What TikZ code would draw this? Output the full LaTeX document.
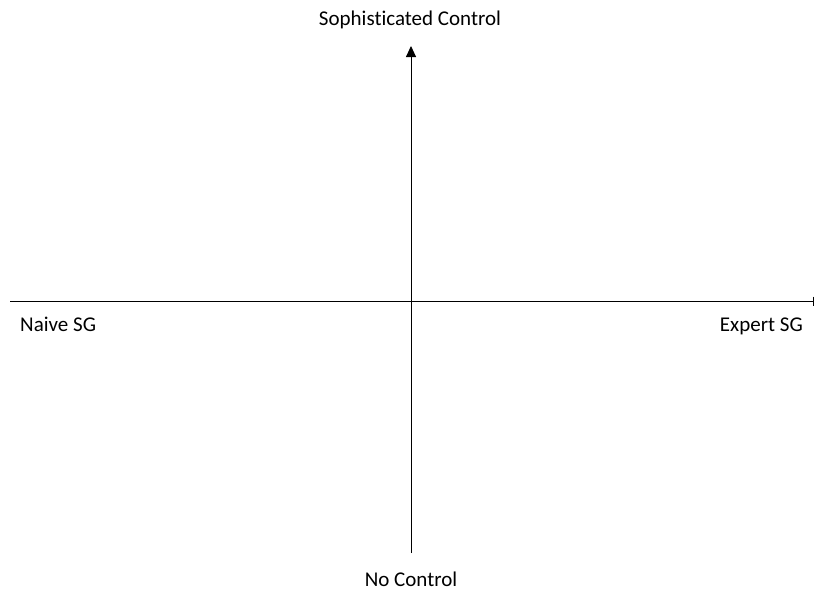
\documentclass[tikz,border=0pt]{standalone}
\usepackage{fontspec}
\setmainfont{Carlito}[Ligatures=NoCommon]
\usetikzlibrary{arrows.meta}
\begin{document}
\begin{tikzpicture}[x=1pt,y=-1pt,
  axis/.style={line width=0.9pt,black},
  lbl/.style={inner sep=0pt,font=\fontsize{21}{24}\selectfont}]
\useasboundingbox (0,0) rectangle (815,592);
% axes end points
\coordinate (left) at (10,301);
\coordinate (right) at (814,301);
\coordinate (bottom) at (411,553);
\coordinate (top) at (411,46);
\draw[axis,-{Bar[width=9pt,line width=0.9pt]}] (left) -- (right);
\draw[axis,-{Triangle[length=11pt,width=10pt]}] (bottom) -- (top);
% axis labels
\node[lbl,anchor=base] (soph) at (410,25) {Sophisticated Control};
\node[lbl,anchor=base] (noctl) at (411,586) {No Control};
\node[lbl,anchor=base west] (naive) at (20,331.5) {Naive SG};
\node[lbl,anchor=base east] (expert) at (803,331.5) {Expert SG};
\end{tikzpicture}
\end{document}
